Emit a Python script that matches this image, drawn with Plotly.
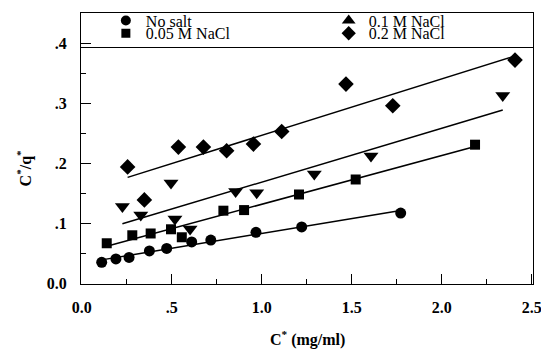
import numpy as np
import plotly.graph_objects as go

# ---- data ----
no_salt_x = [0.111, 0.190, 0.263, 0.376, 0.472, 0.611, 0.717, 0.968, 1.222, 1.772]
no_salt_y = [0.035, 0.0405, 0.043, 0.054, 0.058, 0.069, 0.072, 0.085, 0.094, 0.117]

nacl005_x = [0.139, 0.281, 0.383, 0.496, 0.556, 0.787, 0.902, 1.207, 1.522, 2.185]
nacl005_y = [0.0667, 0.080, 0.083, 0.090, 0.0767, 0.121, 0.122, 0.148, 0.173, 0.231]

nacl01_x = [0.226, 0.328, 0.496, 0.518, 0.602, 0.855, 0.972, 1.292, 1.607, 2.339]
nacl01_y = [0.128, 0.114, 0.167, 0.107, 0.0905, 0.153, 0.151, 0.182, 0.212, 0.313]

nacl02_x = [0.255, 0.348, 0.537, 0.676, 0.805, 0.954, 1.111, 1.468, 1.728, 2.407]
nacl02_y = [0.194, 0.139, 0.227, 0.227, 0.221, 0.232, 0.253, 0.332, 0.296, 0.372]

series_names = ["No salt", "0.05 M NaCl", "0.1 M NaCl", "0.2 M NaCl"]

x_tickvals = [0, 0.5, 1.0, 1.5, 2.0, 2.5]
x_ticktext = ["0.0", ".5", "1.0", "1.5", "2.0", "2.5"]
x_minor = [0.25, 0.75, 1.25, 1.75, 2.25]
y_tickvals = [0, 0.1, 0.2, 0.3, 0.4]
y_ticktext = ["0.0", ".1", ".2", ".3", ".4"]
y_minor = [0.05, 0.15, 0.25, 0.35]

# ---- figure ----
FONT = "Liberation Serif"
series = [
    (no_salt_x, no_salt_y, "circle", 11),
    (nacl005_x, nacl005_y, "square", 10),
    (nacl01_x, nacl01_y, "triangle-down", 13),
    (nacl02_x, nacl02_y, "diamond", 12),
]

fig = go.Figure()
for xs, ys, sym, sz in series:
    xs_a = np.array(xs); ys_a = np.array(ys)
    m, b = np.polyfit(xs_a, ys_a, 1)
    lx = np.array([xs_a.min(), xs_a.max()])
    fig.add_trace(go.Scatter(x=lx, y=m * lx + b, mode="lines",
                             line=dict(color="black", width=1.5),
                             showlegend=False, hoverinfo="skip"))
    fig.add_trace(go.Scatter(x=xs, y=ys, mode="markers",
                             marker=dict(symbol=sym, size=sz, color="black"),
                             showlegend=False))

# legend entries (legend shows an upward triangle for 0.1 M NaCl)
legend_syms = [("circle", 10), ("square", 9), ("triangle-up", 12), ("diamond", 11)]
legend_ids = ["legend", "legend2", "legend3", "legend4"]
for name, (sym, sz), lid in zip(series_names, legend_syms, legend_ids):
    fig.add_trace(go.Scatter(x=[None], y=[None], mode="markers", name=name,
                             marker=dict(symbol=sym, size=sz, color="black"),
                             legend=lid, showlegend=True))

leg_common = dict(font=dict(family=FONT, size=16, color="black"),
                  bgcolor="rgba(0,0,0,0)", borderwidth=0,
                  xanchor="left", yanchor="middle", itemclick=False)
fig.update_layout(
    legend=dict(x=0.055, y=0.972, **leg_common),
    legend2=dict(x=0.055, y=0.925, **leg_common),
    legend3=dict(x=0.548, y=0.972, **leg_common),
    legend4=dict(x=0.548, y=0.925, **leg_common),
)

axis_common = dict(showline=True, linecolor="black", linewidth=1.2, mirror=True,
                   ticks="inside", ticklen=10, tickwidth=1, tickcolor="black",
                   showgrid=False, zeroline=False,
                   tickfont=dict(family=FONT, size=16, color="black", weight="bold"))

fig.update_xaxes(range=[-0.004, 2.507], tickvals=x_tickvals, ticktext=x_ticktext,
                 minor=dict(tickvals=x_minor, ticks="inside", ticklen=5,
                            tickcolor="black", tickwidth=1),
                 ticklabelstandoff=9, **axis_common)
fig.update_yaxes(range=[-0.0012, 0.4505], tickvals=y_tickvals, ticktext=y_ticktext,
                 minor=dict(tickvals=y_minor, ticks="inside", ticklen=5,
                            tickcolor="black", tickwidth=1),
                 ticklabelstandoff=10, **axis_common)

# separator line under the legend area
fig.add_shape(type="line", xref="paper", yref="y", x0=0, x1=1, y0=0.393, y1=0.393,
              line=dict(color="black", width=1.2))

# axis titles
fig.add_annotation(text="C<sup>*</sup> (mg/ml)", xref="paper", yref="paper",
                   x=0.5, y=-0.2, yanchor="middle", showarrow=False,
                   font=dict(family=FONT, size=16, color="black", weight="bold"))
fig.add_annotation(text="C<sup>*</sup>/q<sup>*</sup>", xref="paper", yref="paper",
                   x=-0.124, y=0.43, xanchor="center", yanchor="middle",
                   textangle=-90, showarrow=False,
                   font=dict(family=FONT, size=16, color="black", weight="bold"))

# the page body adds an 8 px offset, so the figure is sized and placed to compensate
fig.update_layout(width=541, height=343,
                  margin=dict(l=73, r=16, t=5, b=67, autoexpand=False),
                  paper_bgcolor="white", plot_bgcolor="white")

fig.write_html("out.html")
